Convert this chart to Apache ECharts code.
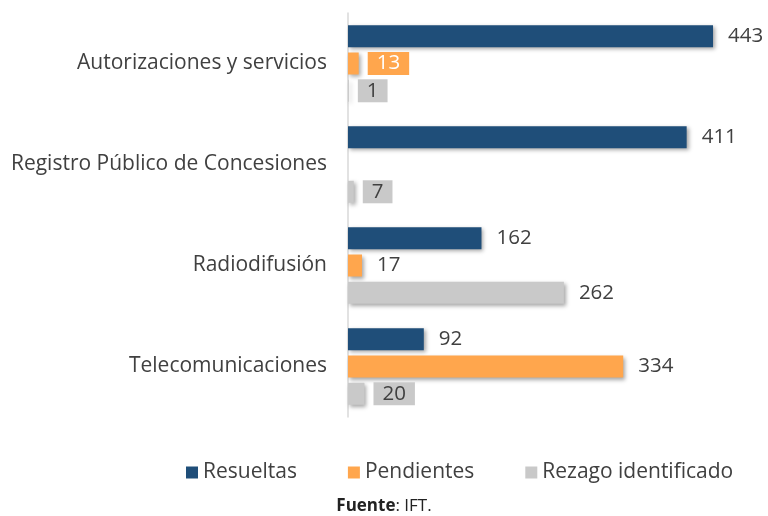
<!DOCTYPE html>
<html>
<head>
<meta charset="utf-8">
<script src="https://cdn.jsdelivr.net/npm/echarts@6/dist/echarts.min.js"></script>
<style>
  html, body { margin: 0; padding: 0; background: #fff; }
  #chart { width: 768px; height: 516px; }
</style>
</head>
<body>
<div id="chart"></div>
<script>
const categories = ['Autorizaciones y servicios', 'Registro Público de Concesiones', 'Radiodifusión', 'Telecomunicaciones'];
const resueltas = [443, 411, 162, 92];
const pendientes = [13, null, 17, 334];
const rezago = [1, 7, 262, 20];

const font = 'Open Sans';
const txt = '#404040';

// labels that Excel drew with a filled box
const boxed = {
  'Pendientes': {0: {bg: '#FFA64D', color: '#fff'}},
  'Rezago identificado': {0: {bg: '#C9C9C9', color: txt}, 1: {bg: '#C9C9C9', color: txt}, 3: {bg: '#C9C9C9', color: txt}}
};

function makeData(name, values) {
  return values.map((v, i) => {
    const b = boxed[name] && boxed[name][i];
    if (!b) return v;
    return {
      value: v,
      label: {backgroundColor: b.bg, color: b.color, padding: [1, 9], distance: 9}
    };
  });
}

function series(name, values, color) {
  return {
    name: name,
    type: 'bar',
    barWidth: 22,
    barGap: '24%',
    data: makeData(name, values),
    itemStyle: {
      color: color,
      shadowBlur: 4,
      shadowColor: 'rgba(0,0,0,0.35)',
      shadowOffsetX: 2,
      shadowOffsetY: 2
    },
    label: {
      show: true,
      position: 'right',
      distance: 15,
      color: txt,
      fontFamily: font,
      fontSize: 20.5
    }
  };
}

const chart = echarts.init(document.getElementById('chart'));
chart.setOption({
  animation: false,
  grid: {left: 348, top: 13, width: 412, height: 404},
  xAxis: {
    type: 'value',
    min: 0,
    max: 500,
    show: false
  },
  yAxis: {
    type: 'category',
    inverse: true,
    data: categories,
    axisLine: {lineStyle: {color: '#D9D9D9', width: 1.5}},
    axisTick: {show: false},
    axisLabel: {color: txt, fontFamily: font, fontSize: 21, margin: 21}
  },
  legend: {
    left: 181,
    top: 457,
    icon: 'rect',
    itemWidth: 12,
    itemHeight: 12,
    itemGap: 51,
    textStyle: {color: txt, fontFamily: font, fontSize: 21}
  },
  graphic: [{
    type: 'text',
    left: 'center',
    top: 498,
    style: {
      text: '{b|Fuente}: IFT.',
      fill: '#222',
      font: '17px "Open Sans"',
      rich: {b: {fontWeight: 'bold', fontFamily: font, fontSize: 17, fill: '#222'}}
    }
  }],
  series: [
    series('Resueltas', resueltas, '#1F4E79'),
    series('Pendientes', pendientes, '#FFA64D'),
    series('Rezago identificado', rezago, '#C9C9C9')
  ]
});
</script>
</body>
</html>
